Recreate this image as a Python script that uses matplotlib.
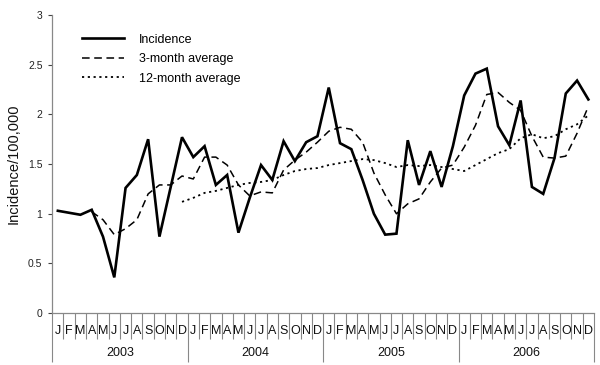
import numpy as np
import matplotlib
matplotlib.use("Agg")
import matplotlib.pyplot as plt
from matplotlib.transforms import blended_transform_factory

plt.rcParams['font.family'] = ['Liberation Sans', 'DejaVu Sans']

years = ["2003", "2004", "2005", "2006"]
months = ["J", "F", "M", "A", "M", "J", "J", "A", "S", "O", "N", "D"]

incidence = [1.03, 1.01, 0.99, 1.04, 0.77, 0.36, 1.26, 1.39, 1.75, 0.77, 1.27, 1.77,
             1.57, 1.68, 1.29, 1.39, 0.81, 1.16, 1.49, 1.34, 1.73, 1.53, 1.72, 1.78,
             2.27, 1.71, 1.65, 1.34, 1.00, 0.79, 0.80, 1.74, 1.29, 1.63, 1.27, 1.68,
             2.19, 2.41, 2.46, 1.88, 1.69, 2.14, 1.27, 1.20, 1.56, 2.21, 2.34, 2.15]

avg3 = [np.nan, np.nan, np.nan, 1.02, 0.94, 0.79, 0.85, 0.94, 1.20, 1.29, 1.29, 1.38,
        1.35, 1.57, 1.57, 1.49, 1.29, 1.18, 1.22, 1.21, 1.44, 1.54, 1.62, 1.72,
        1.83, 1.87, 1.85, 1.72, 1.41, 1.19, 1.00, 1.10, 1.15, 1.32, 1.46, 1.49,
        1.67, 1.89, 2.20, 2.22, 2.12, 2.04, 1.78, 1.57, 1.56, 1.58, 1.81, 2.08]

avg12 = [np.nan] * 11 + [1.12,
         1.16, 1.21, 1.23, 1.26, 1.29, 1.31, 1.32, 1.34, 1.39, 1.43, 1.45, 1.46,
         1.49, 1.51, 1.53, 1.55, 1.54, 1.51, 1.47, 1.49, 1.48, 1.49, 1.47, 1.45,
         1.43, 1.49, 1.55, 1.61, 1.65, 1.76, 1.80, 1.76, 1.78, 1.85, 1.90, 1.99]

n = len(incidence)
x = np.arange(n) + 0.5

fig = plt.figure(figsize=(6.0, 3.65), dpi=100)
ax = fig.add_axes([0.087, 0.142, 0.903, 0.817])

ax.plot(x, incidence, color='black', lw=1.9, solid_joinstyle='miter', label='Incidence')
ax.plot(x, avg3, color='black', lw=1.1, ls=(0, (5, 3)), label='3-month average')
ax.plot(x, avg12, color='black', lw=1.3, ls=(0, (1.2, 2.0)), label='12-month average')

ax.set_xlim(0, n)
ax.set_ylim(0, 3)
ax.set_yticks(np.arange(0, 3.01, 0.5))
ax.set_yticklabels(["0", "0.5", "1", "1.5", "2", "2.5", "3"])
ax.tick_params(axis='y', labelsize=7.5, colors='#444444', length=3, width=0.8, pad=4)
ax.tick_params(axis='y', labelcolor='#222222')
ax.set_ylabel("Incidence/100,000", fontsize=10.5, color='#111111', labelpad=5)

for s in ['top', 'right']:
    ax.spines[s].set_visible(False)
ax.spines['left'].set_color('#888888')
ax.spines['bottom'].set_color('#888888')
ax.spines['left'].set_linewidth(0.9)
ax.spines['bottom'].set_linewidth(0.9)

# month separators (minor) and year separators (major)
ax.set_xticks(np.arange(0, n + 1, 12))
ax.set_xticks(np.arange(0, n + 1, 1), minor=True)
ax.set_xticklabels([])
ax.tick_params(axis='x', which='major', length=35, width=0.8, color='#888888', direction='out')
ax.tick_params(axis='x', which='minor', length=19, width=0.8, color='#888888', direction='out')

trans = blended_transform_factory(ax.transData, ax.transAxes)
px_per_axes = 1.0 / (0.817 * 365)
for i in range(n):
    ax.text(i + 0.5, -18 * px_per_axes, months[i % 12], transform=trans,
            ha='center', va='center', fontsize=9, color='#111111')
for k, yr in enumerate(years):
    ax.text(k * 12 + 6, -40 * px_per_axes, yr, transform=trans,
            ha='center', va='center', fontsize=9, color='#111111')

leg = ax.legend(loc='upper left', bbox_to_anchor=(0.035, 0.975), frameon=False,
                fontsize=9, handlelength=3.3, handletextpad=1.2, labelspacing=0.6)

fig.savefig("out.png", dpi=100, facecolor='white')
